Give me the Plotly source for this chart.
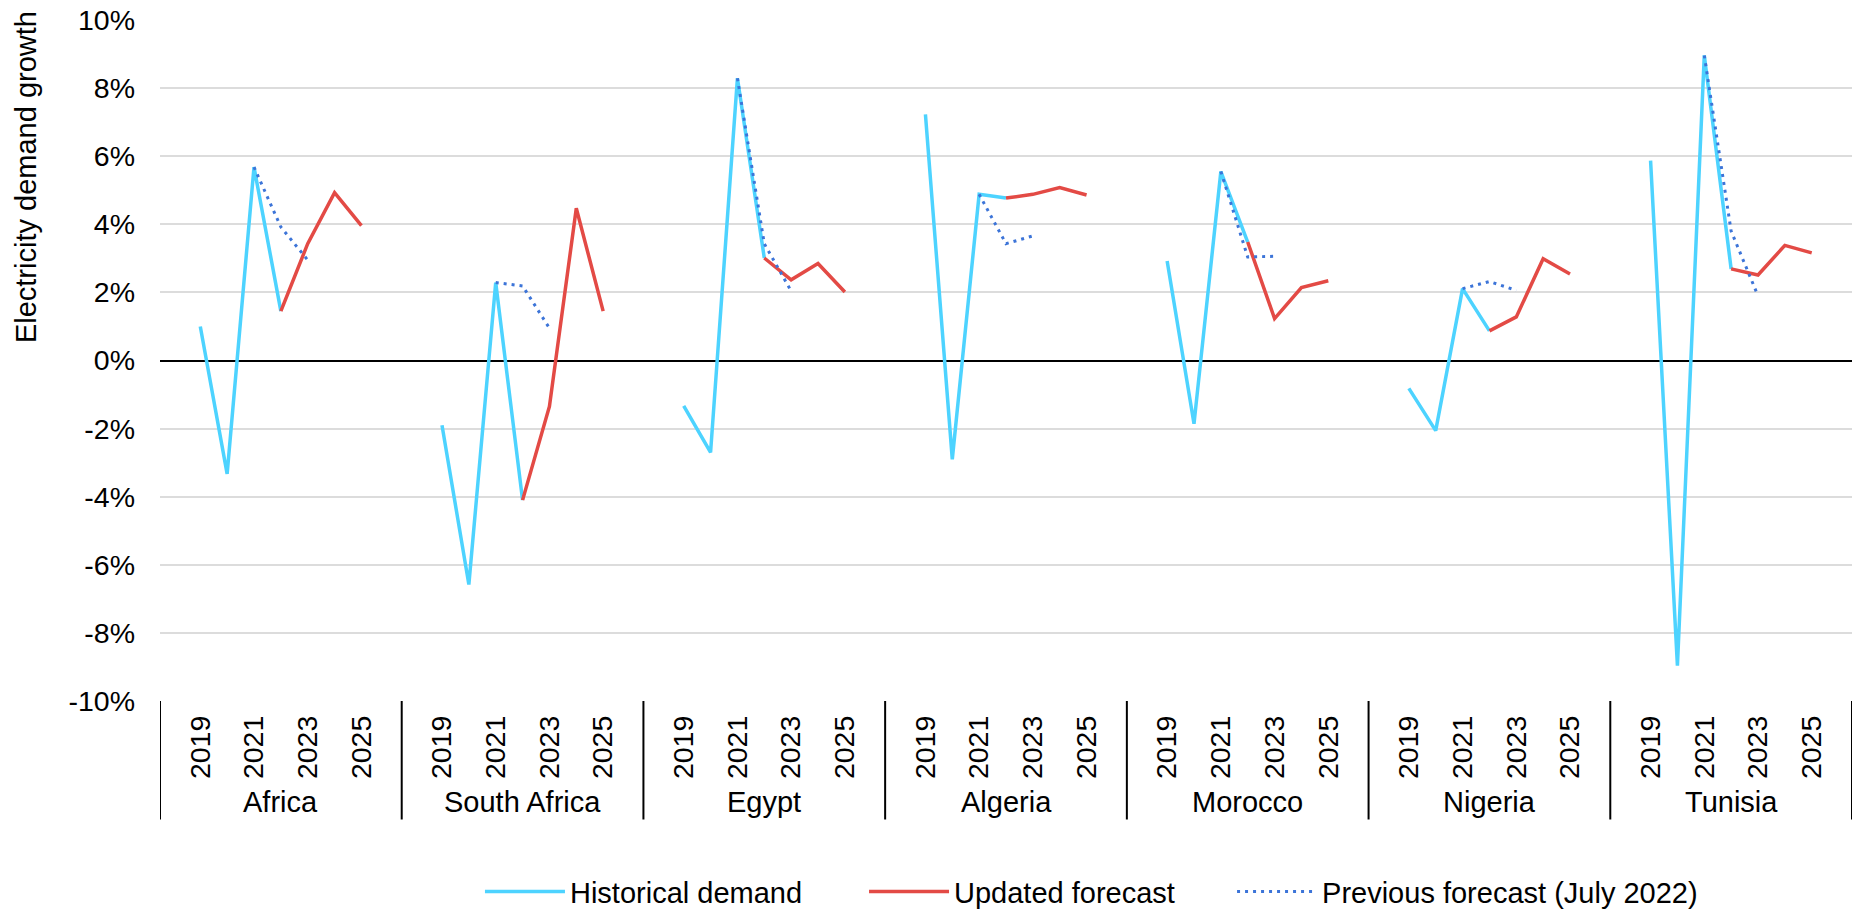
import plotly.graph_objects as go

countries = ["Africa", "South Africa", "Egypt", "Algeria", "Morocco", "Nigeria", "Tunisia"]
category_years = [2018, 2019, 2020, 2021, 2022, 2023, 2024, 2025, 2026]
label_years = [2019, 2021, 2023, 2025]
y_ticks = [-10, -8, -6, -4, -2, 0, 2, 4, 6, 8, 10]

hist_years = [2019, 2020, 2021, 2022]
hist_africa = [1.0, -3.33, 5.68, 1.45]
hist_south_africa = [-1.9, -6.58, 2.29, -4.1]
hist_egypt = [-1.33, -2.7, 8.29, 3.01]
hist_algeria = [7.23, -2.9, 4.88, 4.77]
hist_morocco = [2.92, -1.86, 5.55, 3.48]
hist_nigeria = [-0.82, -2.06, 2.11, 0.87]
hist_tunisia = [5.87, -8.96, 8.96, 2.69]

upd_years = [2022, 2023, 2024, 2025]
upd_africa = [1.45, 3.43, 4.93, 3.96]
upd_south_africa = [-4.1, -1.35, 4.47, 1.45]
upd_egypt = [3.01, 2.37, 2.85, 2.01]
upd_algeria = [4.77, 4.88, 5.08, 4.86]
upd_morocco = [3.48, 1.23, 2.14, 2.34]
upd_nigeria = [0.87, 1.28, 2.99, 2.54]
upd_tunisia = [2.69, 2.51, 3.38, 3.16]

prev_years = [2021, 2022, 2023]
prev_africa = [5.68, 3.92, 2.95]
prev_south_africa = [2.29, 2.19, 0.95]
prev_egypt = [8.29, 3.43, 2.04]
prev_algeria = [4.88, 3.43, 3.66]
prev_morocco = [5.55, 3.04, 3.06]
prev_nigeria = [2.11, 2.32, 2.06]
prev_tunisia = [8.96, 3.8, 1.9]

hist = [hist_africa, hist_south_africa, hist_egypt, hist_algeria, hist_morocco, hist_nigeria, hist_tunisia]
upd = [upd_africa, upd_south_africa, upd_egypt, upd_algeria, upd_morocco, upd_nigeria, upd_tunisia]
prev = [prev_africa, prev_south_africa, prev_egypt, prev_algeria, prev_morocco, prev_nigeria, prev_tunisia]

N = len(category_years)


def pos(g, year):
    return g * N + category_years.index(year)


def build(series, years):
    xs, ys = [], []
    for g, vals in enumerate(series):
        for yr, v in zip(years, vals):
            xs.append(pos(g, yr))
            ys.append(v)
        xs.append(None)
        ys.append(None)
    return xs, ys


FONT = "Liberation Sans, Arial, sans-serif"
FS_TICK = 28.5
FS = 29

fig = go.Figure()
hx, hy = build(hist, hist_years)
ux, uy = build(upd, upd_years)
px_, py_ = build(prev, prev_years)

fig.add_trace(go.Scatter(x=hx, y=hy, mode="lines", name="Historical demand", legend="legend",
                         line=dict(color="#4dd3ff", width=3.5), connectgaps=False))
fig.add_trace(go.Scatter(x=ux, y=uy, mode="lines", name="Updated forecast", legend="legend2",
                         line=dict(color="#e34a45", width=3.5), connectgaps=False))
fig.add_trace(go.Scatter(x=px_, y=py_, mode="lines", name="Previous forecast (July 2022)",
                         legend="legend3",
                         line=dict(color="#3c74d8", width=3, dash="3px,5px"), connectgaps=False))

tickvals, ticktext = [], []
for g in range(len(countries)):
    for yr in label_years:
        tickvals.append(pos(g, yr))
        ticktext.append(str(yr))

ngroups = len(countries)
for g in range(ngroups + 1):
    fig.add_shape(type="line", xref="x", yref="paper", x0=g * N - 0.5, x1=g * N - 0.5,
                  y0=0, y1=-0.174, line=dict(color="black", width=2))
for g, c in enumerate(countries):
    fig.add_annotation(x=g * N + (N - 1) / 2, y=-0.149, xref="x", yref="paper",
                       text=c, showarrow=False, yanchor="middle",
                       font=dict(family=FONT, size=FS, color="black"))

fig.add_annotation(x=-0.0792, y=1.016, xref="paper", yref="paper",
                   text="Electricity demand growth", textangle=-90, showarrow=False,
                   xanchor="center", yanchor="top",
                   font=dict(family=FONT, size=FS, color="black"))


def legend_cfg(x):
    return dict(orientation="h", x=x, xanchor="left", y=-0.28, yanchor="middle",
                font=dict(family=FONT, size=FS, color="black"), itemwidth=80,
                bgcolor="rgba(0,0,0,0)")


fig.update_layout(
    width=1856, height=921,
    margin=dict(l=160, r=4, t=20, b=211),
    plot_bgcolor="white", paper_bgcolor="white",
    font=dict(family=FONT, size=FS, color="black"),
    showlegend=True,
    legend=legend_cfg(0.1891),
    legend2=legend_cfg(0.4161),
    legend3=legend_cfg(0.6336),
    xaxis=dict(range=[-0.5, ngroups * N - 0.5], tickmode="array", tickvals=tickvals,
               ticktext=ticktext, tickangle=-90, showgrid=False, zeroline=False,
               showline=False, ticks="", ticklabelstandoff=8,
               tickfont=dict(family=FONT, size=FS_TICK, color="black")),
    yaxis=dict(range=[-10, 10], tickmode="array", tickvals=y_ticks,
               ticktext=[f"{v}%" for v in y_ticks], showgrid=True,
               gridcolor="#dcdcdc", gridwidth=1.5, zeroline=True, zerolinecolor="black",
               zerolinewidth=2, showline=False, ticks="", ticklabelstandoff=24,
               tickfont=dict(family=FONT, size=FS_TICK, color="black")),
)

fig.write_html("out.html", config={"displayModeBar": False},
               post_script="document.body.style.margin='0';document.body.style.overflow='hidden';")
